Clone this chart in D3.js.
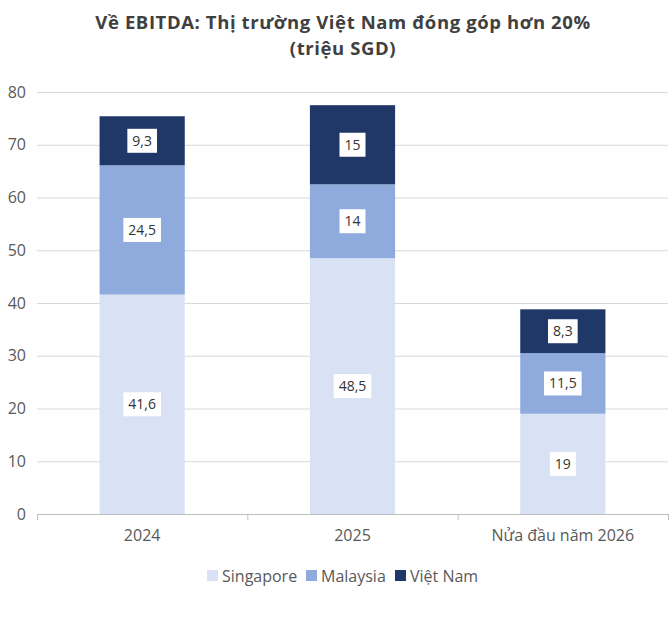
<!DOCTYPE html>
<html><head><meta charset="utf-8">
<script src="https://cdn.jsdelivr.net/npm/d3@7"></script>
<style>body{margin:0;background:#fff}svg{display:block;font-family:"Open Sans","Noto Sans",sans-serif}</style>
</head><body><svg id="c" width="671" height="617"></svg>
<script>
const categories = ["2024", "2025", "Nửa đầu năm 2026"];
const seriesNames = ["Singapore", "Malaysia", "Việt Nam"];
const singapore = [41.6, 48.5, 19];
const malaysia = [24.5, 14, 11.5];
const vietnam = [9.3, 15, 8.3];
const valueLabels = [["41,6","48,5","19"],["24,5","14","11,5"],["9,3","15","8,3"]];
const yTicks = [0,10,20,30,40,50,60,70,80];
const colors = ["#D9E2F5", "#8FAADC", "#1F3868"];

const svg = d3.select("#c");
const m = {l:37, r:668, t:92, b:514};
const x = d3.scaleBand().domain(categories).range([m.l, m.r]).paddingInner(0.595).paddingOuter(0.2975);
const xo = d3.scaleBand().domain(categories).range([m.l, m.r]);
const y = d3.scaleLinear().domain([0,80]).range([m.b, m.t]);

svg.append("text").attr("x",343).attr("y",28.5).attr("text-anchor","middle")
  .attr("font-size",18.5).attr("letter-spacing",0.6).attr("font-weight","bold").attr("fill","#404040")
  .text("Về EBITDA: Thị trường Việt Nam đóng góp hơn 20%");
svg.append("text").attr("x",343).attr("y",54.5).attr("text-anchor","middle")
  .attr("font-size",18.5).attr("letter-spacing",0.6).attr("font-weight","bold").attr("fill","#404040")
  .text("(triệu SGD)");

// gridlines
svg.append("g").selectAll("line").data(yTicks.filter(d=>d>0)).join("line")
  .attr("x1",m.l).attr("x2",m.r).attr("y1",d=>y(d)+0.5).attr("y2",d=>y(d)+0.5)
  .attr("stroke","#D9D9D9").attr("stroke-width",1);

// y labels
svg.append("g").selectAll("text").data(yTicks).join("text")
  .attr("x",26).attr("y",d=>y(d)).attr("dy","0.35em").attr("text-anchor","end")
  .attr("font-size",16).attr("fill","#595959").text(d=>d);

const data = categories.map((c,i)=>({cat:c, Singapore:singapore[i], Malaysia:malaysia[i], "Việt Nam":vietnam[i]}));
const stack = d3.stack().keys(seriesNames)(data);

stack.forEach((s,si)=>{
  const g = svg.append("g");
  g.selectAll("rect").data(s).join("rect")
    .attr("x",d=>x(d.data.cat)).attr("width",x.bandwidth())
    .attr("y",d=>y(d[1])).attr("height",d=>y(d[0])-y(d[1]))
    .attr("fill",colors[si]);
  s.forEach((d,i)=>{
    const cx = x(d.data.cat)+x.bandwidth()/2, cy = (y(d[0])+y(d[1]))/2;
    const t = g.append("text").attr("x",cx).attr("y",cy).attr("dy","0.35em")
      .attr("text-anchor","middle").attr("font-size",14).attr("fill","#333")
      .text(valueLabels[si][i]);
    const bb = t.node().getBBox();
    g.insert("rect","text").attr("x",bb.x-5).attr("y",cy-12).attr("width",bb.width+10).attr("height",24).attr("fill","#fff");
  });
});
svg.selectAll("g text").raise();

// x axis
const xa = svg.append("g");
xa.append("line").attr("x1",m.l).attr("x2",m.r).attr("y1",m.b+0.5).attr("y2",m.b+0.5).attr("stroke","#BFBFBF");
const edges = categories.map(c=>xo(c)).concat([m.r]);
xa.selectAll("line.t").data(edges).join("line").attr("class","t")
  .attr("x1",d=>d+0.5).attr("x2",d=>d+0.5).attr("y1",m.b).attr("y2",m.b+6).attr("stroke","#BFBFBF");
xa.selectAll("text").data(categories).join("text")
  .attr("x",d=>xo(d)+xo.bandwidth()/2).attr("y",541).attr("text-anchor","middle")
  .attr("font-size",16).attr("fill","#595959").text(d=>d);

// legend
const lg = svg.append("g");
const items = [{n:"Singapore",x:207},{n:"Malaysia",x:306},{n:"Việt Nam",x:395}];
items.forEach((it,i)=>{
  lg.append("rect").attr("x",it.x).attr("y",570).attr("width",11).attr("height",11).attr("fill",colors[i]);
  lg.append("text").attr("x",it.x+15).attr("y",576).attr("dy","0.35em").attr("font-size",16).attr("fill","#595959").text(it.n);
});
</script></body></html>
